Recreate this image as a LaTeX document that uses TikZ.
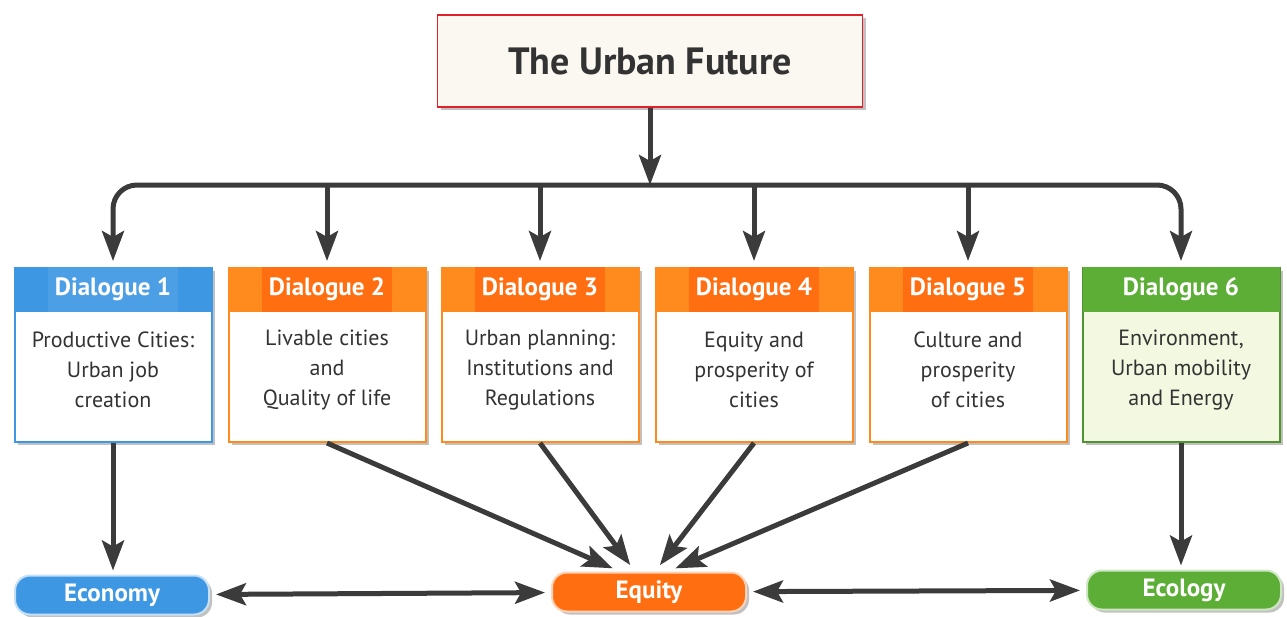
\documentclass[tikz,border=0pt]{standalone}
\usepackage{fontspec}
\setmainfont{PT Sans}
\usetikzlibrary{arrows.meta,shadows}

\definecolor{arrowgray}{HTML}{3B3B3B}
\definecolor{textgray}{HTML}{333333}
\definecolor{titlered}{HTML}{E0202A}
\definecolor{titlefill}{HTML}{FBF8F1}
\definecolor{ublue}{HTML}{3D97E3}
\definecolor{uorange}{HTML}{FF8A1E}
\definecolor{udorange}{HTML}{FF6E10}
\definecolor{ugreen}{HTML}{5DAE36}
\definecolor{ulgreen}{HTML}{F3F8E1}

\colorlet{head1}{ublue}   \colorlet{label1}{ublue!92!white} \colorlet{edge1}{ublue}      \colorlet{body1}{white}
\colorlet{head2}{uorange} \colorlet{label2}{udorange}       \colorlet{edge2}{uorange}    \colorlet{body2}{white}
\colorlet{head3}{uorange} \colorlet{label3}{udorange}       \colorlet{edge3}{uorange}    \colorlet{body3}{white}
\colorlet{head4}{uorange} \colorlet{label4}{udorange}       \colorlet{edge4}{uorange}    \colorlet{body4}{white}
\colorlet{head5}{uorange} \colorlet{label5}{udorange}       \colorlet{edge5}{uorange}    \colorlet{body5}{white}
\colorlet{head6}{ugreen}  \colorlet{label6}{ugreen}         \colorlet{edge6}{ugreen!85!black} \colorlet{body6}{ulgreen}

\begin{document}
\begin{tikzpicture}[x=1pt,y=-1pt,
	>={Stealth[length=30pt,width=22pt,inset=6pt]},
	conn/.style={->,draw=arrowgray,line width=5pt},
	twoway/.style={<->,draw=arrowgray,line width=5pt,shorten <=6pt,shorten >=6pt},
	shade/.style={drop shadow={shadow xshift=3pt,shadow yshift=-3pt,opacity=.35,fill=black!70}},
	titlebox/.style={draw=titlered,line width=1.5pt,fill=titlefill,shade,minimum width=425pt,minimum height=92pt,
		text=textgray,font=\fontsize{38}{40}\selectfont\bfseries},
	dbox/.style={line width=2pt,shade,minimum width=197pt,minimum height=174pt,inner sep=0pt},
	band/.style={anchor=north,minimum width=197pt,minimum height=45pt,inner sep=0pt},
	tag/.style={minimum height=45pt,inner xsep=7pt,inner ysep=0pt,text=white,font=\fontsize{25}{27}\selectfont\bfseries},
	dtext/.style={align=center,text=textgray,font=\fontsize{22}{30}\selectfont},
	pill/.style={rounded corners=15pt,draw=white!70!#1,fill=#1,line width=2pt,shade,minimum width=194pt,minimum height=39pt,
		text=white,font=\fontsize{25}{27}\selectfont\bfseries}]

	\useasboundingbox (0,0) rectangle (1287,616);

	\node[titlebox] (urban) at (650,61) {The Urban Future};

	\foreach \i/\x/\txt in {1/113/{Productive Cities:\\Urban job\\creation},
		2/327/{Livable cities\\and\\Quality of life},
		3/540/{Urban planning:\\Institutions and\\Regulations},
		4/754/{Equity and\\prosperity of\\cities},
		5/968/{Culture and\\prosperity\\of cities},
		6/1181/{Environment,\\Urban mobility\\and Energy}} {
		\node[dbox,draw=edge\i,fill=body\i] (d\i) at (\x,355) {};
		\node[band,fill=head\i] (h\i) at (d\i.north) {};
		\node[tag,fill=label\i] (l\i) at (h\i) {Dialogue \i};
		\node[dtext] (t\i) at ([yshift=-15pt]d\i.center) {\txt};
	}

	\node[pill=ublue] (econ) at (112,595) {Economy};
	\node[pill=udorange] (equity) at (649,592) {Equity};
	\node[pill=ugreen] (ecol) at (1184,590) {Ecology};

	\coordinate (hub) at (650,185);
	\draw[conn] (urban) -- (hub);
	\draw[conn,rounded corners=24pt,shorten >=6pt] (hub) -| (d1.north);
	\draw[conn,rounded corners=24pt,shorten >=6pt] (hub) -| (d6.north);
	\foreach \i in {2,...,5}
		\draw[conn,shorten >=6pt] (hub -| d\i.north) -- (d\i.north);

	\draw[conn,shorten >=4pt] (d1.south) -- (d1.south |- econ.north);
	\draw[conn,shorten >=4pt] (d6.south) -- (d6.south |- ecol.north);
	\foreach \i/\s in {2/-29,3/-14,4/6,5/19}
		\draw[conn,shorten >=8pt] (d\i.south) -- ([xshift=\s pt]equity.north);

	\draw[twoway] (econ) -- (equity);
	\draw[twoway] (equity) -- (ecol);

\end{tikzpicture}
\end{document}
